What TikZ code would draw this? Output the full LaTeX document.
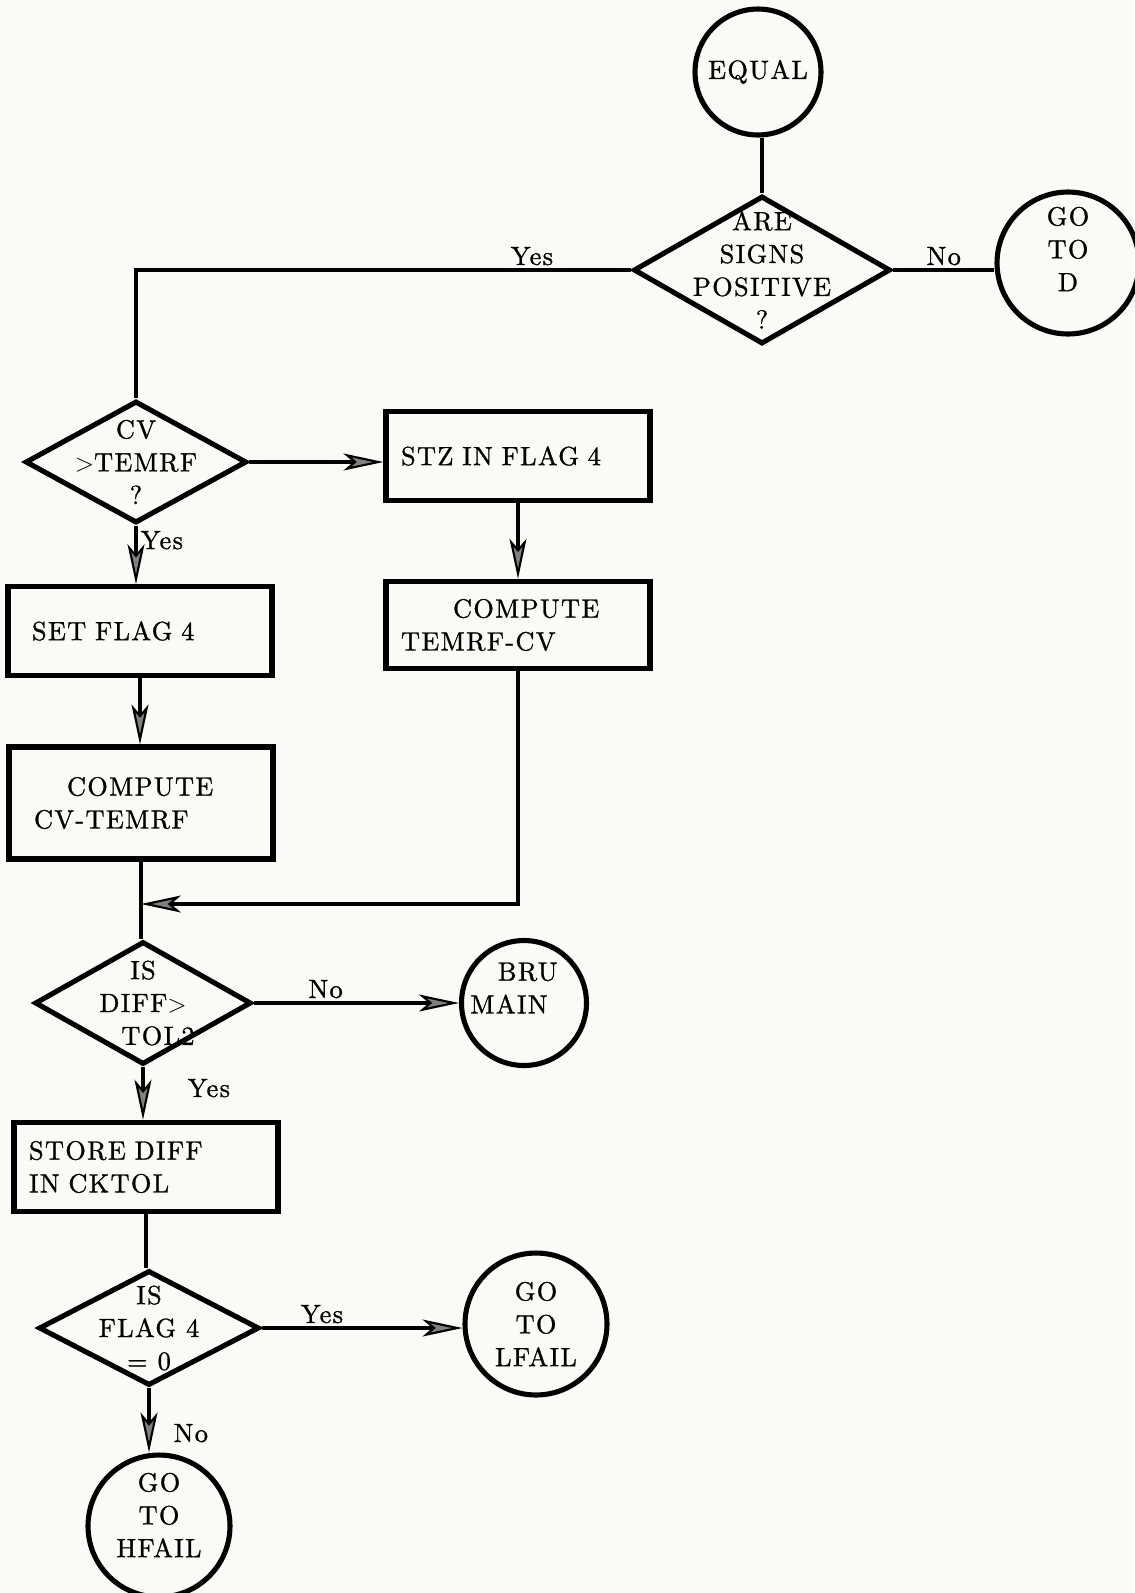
\documentclass[tikz,border=0pt]{standalone}
\usepackage{fontspec}
\usepackage{tikz}
\usetikzlibrary{shapes.geometric,arrows.meta,positioning}
\newfontfamily\chartfont{lmroman10-regular.otf}[LetterSpace=5, FakeBold=1]
\definecolor{paper}{RGB}{250,250,247}
\tikzset{
  txt/.style={font=\chartfont\fontsize{15}{18.7}\selectfont, align=center, inner sep=0pt},
  ffline/.style={line width=2.9pt},
  term/.style={circle, draw, ffline, minimum size=#1, inner sep=0pt},
  dec/.style 2 args={diamond, draw, ffline, minimum width=#1, minimum height=#2, inner sep=0pt},
  proc/.style={rectangle, draw, ffline, txt, align=left, text width=4.68cm, inner xsep=0.3cm, minimum height=#1},
  flow/.style={line width=2.4pt},
  arr/.style={flow, -{Stealth[length=0.8cm, width=0.34cm, inset=0.2cm, fill=black!50, line width=1.2pt]}},
  lbl/.style={txt, inner sep=1.5pt}
}
\begin{document}
\begin{tikzpicture}[x=0.02cm,y=-0.02cm]
  \fill[paper] (0,0) rectangle (1134,1593);
  \useasboundingbox (0,0) rectangle (1134,1593);

  % entry and sign test
  \node[term=2.52cm, label={[txt]center:EQUAL}] (equal) at (758,72) {};
  \node[dec={5.14cm}{2.96cm}, label={[txt]center:{ARE\\SIGNS\\POSITIVE\\?}}] (signs) at (762,270) {};
  \node[term=2.84cm, label={[txt,yshift=0.28cm]center:{GO\\TO\\D}}] (god) at (1068,263) {};

  % left branch
  \node[dec={4.43cm}{2.44cm}, label={[txt]center:{CV\\$>$TEMRF\\?}}] (cv) at (136,462) {};
  \node[proc=1.77cm] (setf) at (140,631) {\hspace*{0.18cm}SET FLAG 4};
  \node[proc=2.24cm] (cmpta) at (141,803) {\hspace*{0.86cm}COMPUTE\\\hspace*{0.2cm}CV-TEMRF};

  % right branch
  \node[proc=1.79cm] (stz) at (518,456) {STZ IN FLAG 4};
  \node[proc=1.75cm] (cmptb) at (518,625) {\hspace*{1.04cm}COMPUTE\\TEMRF-CV};
  \coordinate (mrg) at (141,904);

  % tolerance tests
  \node[dec={4.33cm}{2.46cm}, label={[txt]center:{IS\\DIFF$>$\\\hspace*{0.6cm}TOL2}}] (diff) at (143,1003) {};
  \node[term=2.5cm, label={[txt,align=left,xshift=-0.2cm,yshift=0.3cm]center:{\hspace*{0.55cm}BRU\\MAIN}}] (bru) at (524,1003) {};
  \node[proc=1.79cm] (store) at (146,1167) {STORE DIFF\\IN CKTOL};
  \node[dec={4.41cm}{2.3cm}, label={[txt]center:{IS\\FLAG 4\\= 0}}] (flag) at (149,1328) {};
  \node[term=2.84cm, label={[txt]center:{GO\\TO\\LFAIL}}] (lfail) at (536,1324) {};
  \node[term=2.84cm, label={[txt,yshift=0.22cm]center:{GO\\TO\\HFAIL}}] (hfail) at (159,1526) {};

  % connectors
  \draw[flow] (signs.north) -- (signs.north |- equal.south);
  \draw[flow] (signs.east) -- node[lbl, above] {No} (signs.east -| god.west);
  \draw[flow] (signs.west) -| node[lbl, pos=.1, above] {Yes} (cv.north);
  \draw[arr] (cv.east) -- (cv.east -| stz.west);
  \draw[arr] (cv.south) -- node[lbl, pos=.25, right] {Yes} (cv.south |- setf.north);
  \draw[arr] (stz.south) -- (cmptb.north);
  \draw[arr] (setf.south) -- (setf.south |- cmpta.north);
  \draw[flow] (cmpta.south) -- (cmpta.south |- diff.north);
  \draw[arr] (cmptb.south) |- (mrg);
  \draw[arr] (diff.east) -- node[lbl, pos=.35, above] {No} (diff.east -| bru.west);
  \draw[arr] (diff.south) -- node[lbl, pos=.4, right=0.8cm] {Yes} (diff.south |- store.north);
  \draw[flow] (store.south) -- (store.south |- flag.north);
  \draw[arr] (flag.east) -- node[lbl, pos=.3, above] {Yes} (flag.east -| lfail.west);
  \draw[arr] (flag.south) -- node[lbl, pos=.7, right=0.4cm] {No} (flag.south |- hfail.north);
\end{tikzpicture}
\end{document}
